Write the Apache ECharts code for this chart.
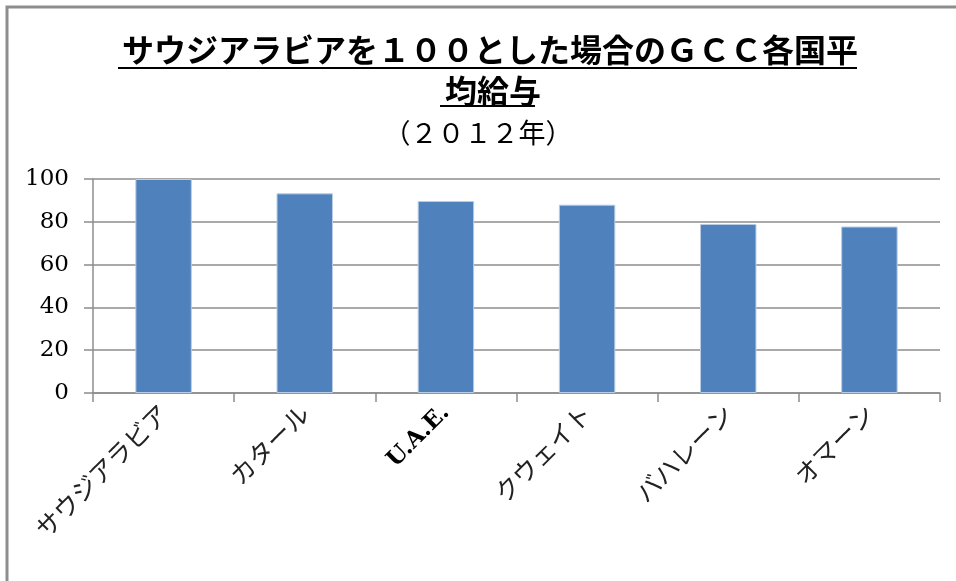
<!DOCTYPE html>
<html><head><meta charset="utf-8">
<script src="https://cdn.jsdelivr.net/npm/echarts@6/dist/echarts.min.js"></script>
<style>html,body{margin:0;padding:0;background:#fff}#c{width:956px;height:581px}</style>
</head><body><div id="c"></div>
<script>
var categories = ['サウジアラビア', 'カタール', 'U.A.E.', 'クウェイト', 'バハレーン', 'オマーン'];
var values = [100, 93.3, 89.7, 88, 79, 77.8];
var yTicks = [0, 20, 40, 60, 80, 100];
var titleLine1 = 'サウジアラビアを１００とした場合のＧＣＣ各国平';
var titleLine2 = '均給与';
var subTitle = '（２０１２年）';

var chart = echarts.init(document.getElementById('c'));
var cjk = '"Noto Sans CJK JP", sans-serif';
chart.setOption({
  animation: false,
  title: [
    { text: titleLine1, left: 117, top: 29, textStyle: { fontFamily: cjk, fontSize: 32, fontWeight: 'bold', color: '#000' } },
    { text: titleLine2, left: 440, top: 70, textStyle: { fontFamily: cjk, fontSize: 32, fontWeight: 'bold', color: '#000' } },
    { text: subTitle, left: 'center', top: 114, textStyle: { fontFamily: cjk, fontSize: 27, fontWeight: 'normal', color: '#000' } }
  ],
  graphic: [
    { type: 'rect', shape: { x: 7, y: 7, width: 1200, height: 1200 }, style: { fill: 'none', stroke: '#8e8e8e', lineWidth: 3 }, silent: true },
    { type: 'line', shape: { x1: 118, y1: 68, x2: 857, y2: 68 }, style: { stroke: '#000', lineWidth: 2 } },
    { type: 'line', shape: { x1: 440, y1: 106, x2: 535, y2: 106 }, style: { stroke: '#000', lineWidth: 2 } }
  ],
  grid: { left: 93, right: 16, top: 179, bottom: 188, containLabel: false },
  xAxis: {
    type: 'category',
    data: categories,
    axisLine: { lineStyle: { color: '#8c8c8c', width: 1.5 } },
    axisTick: { show: true, length: 9, lineStyle: { color: '#8c8c8c', width: 1.5 } },
    axisLabel: {
      rotate: 45, margin: 16, fontFamily: cjk, fontSize: 25, color: '#222',
      formatter: function (v) { return v === 'U.A.E.' ? '{e|' + v + '}' : v; },
      rich: { e: { fontFamily: '"DejaVu Serif", serif', fontSize: 23, fontWeight: 'bold', color: '#000' } }
    }
  },
  yAxis: {
    type: 'value', min: yTicks[0], max: yTicks[yTicks.length - 1], interval: 20,
    axisLine: { show: true, lineStyle: { color: '#8c8c8c', width: 1.5 } },
    axisTick: { show: true, length: 9, lineStyle: { color: '#8c8c8c', width: 1.5 } },
    splitLine: { lineStyle: { color: '#8c8c8c', width: 1.5 } },
    axisLabel: { margin: 24, fontFamily: '"DejaVu Serif", serif', fontSize: 23, color: '#000' }
  },
  series: [{
    type: 'bar', data: values, barWidth: '40%',
    itemStyle: { color: '#4F81BD', borderColor: '#b9cde5', borderWidth: 1 }
  }]
});
</script></body></html>
